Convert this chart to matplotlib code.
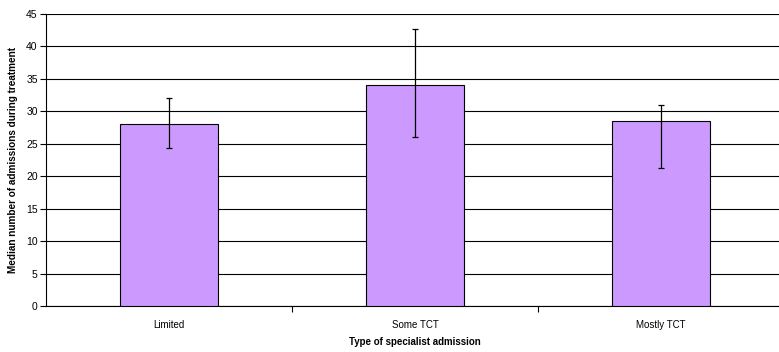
import numpy as np
import matplotlib
matplotlib.use('Agg')
import matplotlib.pyplot as plt

categories = ['Limited', 'Some TCT', 'Mostly TCT']
medians = [28.0, 34.0, 28.5]
err_low = [24.3, 26.0, 21.3]
err_high = [32.0, 42.7, 31.0]

plt.rcParams['font.family'] = ['Liberation Sans', 'DejaVu Sans']

fig = plt.figure(figsize=(7.79, 3.52), dpi=100)
ax = fig.add_axes([46 / 779, 46 / 352, 738 / 779, 292 / 352])

x = np.arange(len(categories))
yerr = [np.array(medians) - np.array(err_low), np.array(err_high) - np.array(medians)]
ax.bar(x, medians, width=0.4, color='#cc99ff', edgecolor='black', linewidth=0.8, zorder=3)
ax.errorbar(x, medians, yerr=yerr, fmt='none', ecolor='black', elinewidth=0.9,
            capsize=2.5, capthick=0.9, zorder=4)

ax.set_xlim(-0.5, len(categories) - 0.5)
ax.set_ylim(0, 45)
ax.set_yticks(np.arange(0, 46, 5))
ax.yaxis.grid(True, color='black', linewidth=0.8, zorder=0)
ax.set_axisbelow(True)

ax.set_xticks(x)
ax.set_xticklabels(categories, fontsize=7)
ax.set_xticks([0.5, 1.5], minor=True)
ax.tick_params(axis='x', which='major', length=0, pad=10)
ax.tick_params(axis='x', which='minor', length=4, width=0.8, direction='out')
ax.tick_params(axis='y', length=4, width=0.8, labelsize=7.5, pad=2)

for side in ['top', 'right']:
    ax.spines[side].set_visible(False)
for side in ['left', 'bottom']:
    ax.spines[side].set_linewidth(0.8)

ax.set_xlabel('Type of specialist admission', fontsize=7, fontweight='bold', labelpad=5)
ax.set_ylabel('Median number of admissions during treatment', fontsize=7.2, fontweight='bold', labelpad=6)

fig.savefig('out.png', dpi=100)
